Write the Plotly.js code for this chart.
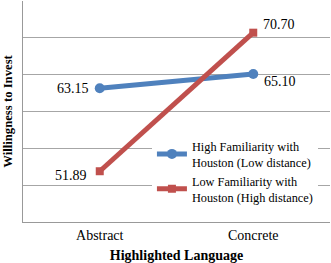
<!DOCTYPE html>
<html><head><meta charset="utf-8">
<script src="https://cdn.plot.ly/plotly-3.0.1.min.js"></script>
<style>html,body{margin:0;padding:0;background:#fff}</style>
</head><body><div id="chart" style="width:331px;height:263px"></div>
<script>
var categories = ["Abstract", "Concrete"];
var highFamiliarity = [63.15, 65.10];
var lowFamiliarity = [51.89, 70.70];
var seriesNames = ["High Familiarity with<br>Houston (Low distance)", "Low Familiarity with<br>Houston (High distance)"];
var labelsHigh = ["63.15", "65.10"];
var labelsLow = ["51.89", "70.70"];

var font = "Liberation Serif, Times New Roman, serif";
var traces = [
  {x: categories, y: highFamiliarity, name: seriesNames[0], type: "scatter", mode: "lines+markers",
   line: {color: "#4F81BD", width: 5}, marker: {symbol: "circle", size: 10, color: "#4F81BD"}},
  {x: categories, y: lowFamiliarity, name: seriesNames[1], type: "scatter", mode: "lines+markers",
   line: {color: "#C0504D", width: 5}, marker: {symbol: "square", size: 8, color: "#C0504D"}}
];
var ann = [
  {x: categories[0], y: highFamiliarity[0], text: labelsHigh[0], xanchor: "right", xshift: -9, yshift: 0},
  {x: categories[1], y: highFamiliarity[1], text: labelsHigh[1], xanchor: "left", xshift: 9, yshift: -8},
  {x: categories[0], y: lowFamiliarity[0], text: labelsLow[0], xanchor: "right", xshift: -11, yshift: -4},
  {x: categories[1], y: lowFamiliarity[1], text: labelsLow[1], xanchor: "left", xshift: 8, yshift: 8}
].map(function(a){ a.showarrow = false; a.xref = "x"; a.yref = "y"; a.font = {family: font, size: 14, color: "#000"}; return a; });

var layout = {
  width: 331, height: 263,
  margin: {l: 23, r: 1, t: 1, b: 41},
  paper_bgcolor: "#fff", plot_bgcolor: "#fff",
  font: {family: font, size: 13, color: "#000"},
  showlegend: true,
  legend: {x: 0.42, y: 0.41, xanchor: "left", yanchor: "top", bgcolor: "#fff",
           font: {family: font, size: 12.3, color: "#000"}, tracegroupgap: 4, itemwidth: 30},
  xaxis: {type: "category", range: [-0.5, 1.5], showgrid: false, showline: true, linecolor: "#999", linewidth: 1,
          ticks: "", tickfont: {family: font, size: 14}, zeroline: false,
          title: {text: "<b>Highlighted Language</b>", font: {family: font, size: 14}, standoff: 8}},
  yaxis: {range: [45, 75], dtick: 5, showticklabels: false, showgrid: true, gridcolor: "#a6a6a6", gridwidth: 1,
          showline: true, linecolor: "#999", ticks: "", zeroline: false,
          title: {text: "<b>Willingness to Invest</b>", font: {family: font, size: 12.7}, standoff: 6}},
  annotations: ann
};
Plotly.newPlot("chart", traces, layout, {displayModeBar: false, staticPlot: true});
</script></body></html>
